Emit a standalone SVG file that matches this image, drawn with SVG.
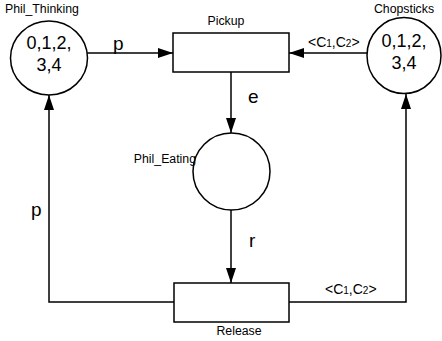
<svg xmlns="http://www.w3.org/2000/svg" width="442" height="341" viewBox="0 0 442 341">
<defs>
<style>
.place{fill:#fff;stroke:#000;stroke-width:1.5}
.trans{fill:#fff;stroke:#000;stroke-width:1.5}
.arc{fill:none;stroke:#000;stroke-width:1.5}
.lbl{font-family:"Liberation Sans",Arial,sans-serif;font-size:12.3px;fill:#000}
.tok{font-family:"Liberation Sans",Arial,sans-serif;font-size:18px;fill:#000;text-anchor:middle}
.inscr{font-family:"Liberation Sans",Arial,sans-serif;font-size:19px;fill:#000}
.sm{font-family:"Liberation Sans",Arial,sans-serif;font-size:14px;fill:#000}
</style>
<marker id="ah" markerUnits="userSpaceOnUse" markerWidth="15" markerHeight="10" refX="15" refY="5" orient="auto">
<path d="M0,0 L15,5 L0,10 z" fill="#000"/>
</marker>
</defs>
<rect width="442" height="341" fill="#fff"/>
<g id="connectors">
<line class="arc" x1="87" y1="53" x2="173" y2="53" marker-end="url(#ah)"/>
<line class="arc" x1="367" y1="53" x2="289" y2="53" marker-end="url(#ah)"/>
<line class="arc" x1="231" y1="72" x2="231" y2="133" marker-end="url(#ah)"/>
<line class="arc" x1="231" y1="210" x2="231" y2="283" marker-end="url(#ah)"/>
<polyline class="arc" points="174,302 49,302 49,95" marker-end="url(#ah)"/>
<polyline class="arc" points="289,302 406,302 406,94" marker-end="url(#ah)"/>
<text class="inscr" x="113" y="50">p</text>
<text class="sm" x="308" y="47">&lt;C<tspan font-size="10">1</tspan>,C<tspan font-size="10">2</tspan>&gt;</text>
<text class="inscr" x="248" y="103">e</text>
<text class="inscr" x="249" y="247">r</text>
<text class="inscr" x="31" y="216">p</text>
<text class="sm" x="325" y="294">&lt;C<tspan font-size="10">1</tspan>,C<tspan font-size="10">2</tspan>&gt;</text>
</g>
<g id="Phil_Thinking">
<ellipse class="place" cx="49" cy="58" rx="38.5" ry="37"/>
<text class="lbl" x="5" y="13">Phil_Thinking</text>
<text class="tok" x="49" y="49">0,1,2,</text>
<text class="tok" x="49" y="71">3,4</text>
</g>
<g id="Chopsticks">
<ellipse class="place" cx="404" cy="55.5" rx="37" ry="38"/>
<text class="lbl" x="404" y="13" text-anchor="middle">Chopsticks</text>
<text class="tok" x="404" y="47">0,1,2,</text>
<text class="tok" x="404" y="69">3,4</text>
</g>
<g id="Pickup">
<rect class="trans" x="173" y="33" width="116" height="39"/>
<text class="lbl" x="226" y="25" text-anchor="middle">Pickup</text>
</g>
<g id="Phil_Eating">
<circle class="place" cx="231.5" cy="171.5" r="38.5"/>
<text class="lbl" x="196" y="163" text-anchor="end">Phil_Eating</text>
</g>
<g id="Release">
<rect class="trans" x="174" y="283" width="115" height="39"/>
<text class="lbl" x="239" y="335" text-anchor="middle">Release</text>
</g>
</svg>
